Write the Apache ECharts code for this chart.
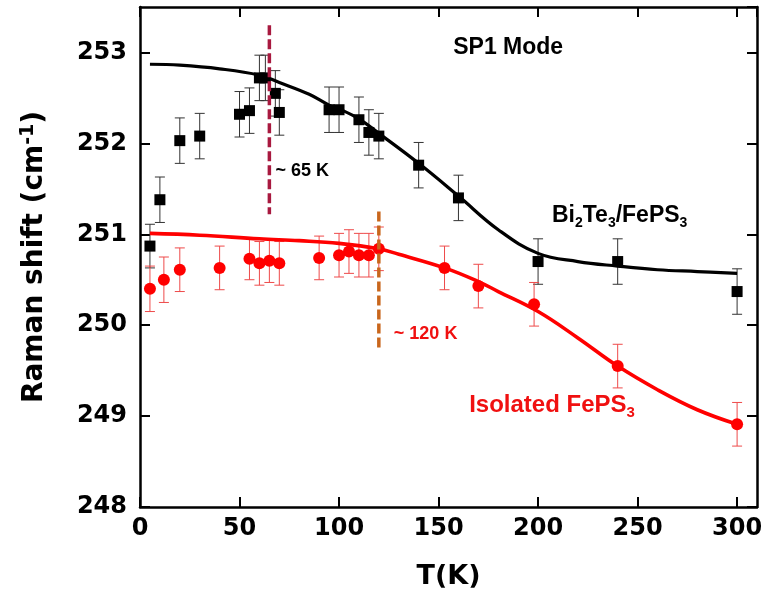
<!DOCTYPE html>
<html><head><meta charset="utf-8">
<script src="https://cdn.jsdelivr.net/npm/echarts@6/dist/echarts.min.js"></script>
<style>html,body{margin:0;padding:0;background:#fff}#c{width:766px;height:610px}</style>
</head><body><div id="c"></div>
<script>
// ---- data ----
const tBi   = [5, 10, 20, 30, 50, 55, 60, 63, 68, 70, 95, 100, 110, 115, 120, 140, 160, 200, 240, 300];
const yBi   = [250.87, 251.38, 252.03, 252.08, 252.32, 252.36, 252.72, 252.72, 252.55, 252.34, 252.37, 252.37, 252.26, 252.12, 252.08, 251.76, 251.40, 250.70, 250.70, 250.37];
const eBi   = [0.24, 0.25, 0.25, 0.25, 0.25, 0.25, 0.25, 0.25, 0.25, 0.25, 0.25, 0.25, 0.25, 0.25, 0.25, 0.25, 0.25, 0.25, 0.25, 0.25];

const tIso  = [5, 12, 20, 40, 55, 60, 65, 70, 90, 100, 105, 110, 115, 120, 153, 170, 198, 240, 300];
const yIso  = [250.40, 250.50, 250.61, 250.63, 250.73, 250.68, 250.71, 250.68, 250.74, 250.77, 250.81, 250.77, 250.77, 250.84, 250.63, 250.43, 250.23, 249.55, 248.91];
const eIso  = [0.25, 0.25, 0.24, 0.24, 0.23, 0.24, 0.24, 0.24, 0.24, 0.24, 0.24, 0.24, 0.24, 0.24, 0.24, 0.24, 0.24, 0.24, 0.24];

const fitTBi = [5, 20, 40, 60, 70, 85, 95, 100, 110, 120, 140, 160, 180, 200, 220, 240, 260, 280, 300];
const fitYBi = [252.87, 252.86, 252.82, 252.75, 252.67, 252.54, 252.42, 252.38, 252.27, 252.11, 251.78, 251.42, 251.05, 250.79, 250.70, 250.65, 250.61, 250.59, 250.57];

const fitTIso = [5, 30, 60, 80, 100, 120, 130, 153, 170, 180, 200, 220, 240, 260, 280, 300];
const fitYIso = [251.01, 250.99, 250.95, 250.93, 250.90, 250.84, 250.78, 250.63, 250.48, 250.37, 250.15, 249.86, 249.55, 249.29, 249.07, 248.91];

const mark65  = {t: 65,  y: [253.30, 251.22]};
const mark120 = {t: 120, y: [251.25, 249.75]};

// ---- chart ----
const FONT = '"Liberation Sans", Arial, sans-serif';
const AXFONT = '"DejaVu Sans", "Liberation Sans", sans-serif';
const chart = echarts.init(document.getElementById('c'), null, {renderer: 'canvas'});
const zip = (a, b) => a.map((v, i) => [v, b[i]]);
const zip3 = (a, b, c) => a.map((v, i) => [v, b[i], c[i]]);

function errRender(color) {
  return function (params, api) {
    const x = api.value(0), y = api.value(1), e = api.value(2);
    const top = api.coord([x, y + e]);
    const bot = api.coord([x, y - e]);
    const w = 5;
    const st = {stroke: color, lineWidth: 1};
    return {type: 'group', children: [
      {type: 'line', shape: {x1: top[0], y1: top[1], x2: bot[0], y2: bot[1]}, style: st},
      {type: 'line', shape: {x1: top[0]-w, y1: top[1], x2: top[0]+w, y2: top[1]}, style: st},
      {type: 'line', shape: {x1: bot[0]-w, y1: bot[1], x2: bot[0]+w, y2: bot[1]}, style: st}
    ]};
  };
}

const axisCommon = {
  axisLine: {show: true, onZero: false, lineStyle: {color: '#000', width: 2.5}},
  axisTick: {show: true, inside: true, length: 10, lineStyle: {color: '#000', width: 2}},
  splitLine: {show: false}
};

const option = {
  animation: false,
  backgroundColor: '#fff',
  grid: {left: 140, right: 9, top: 7, bottom: 103, containLabel: false},
  xAxis: [
    Object.assign({type: 'value', min: 0, max: 310, interval: 50, position: 'bottom',
      name: 'T(K)', nameLocation: 'middle', nameGap: 56,
      nameTextStyle: {fontFamily: AXFONT, fontWeight: 'bold', fontSize: 27, color: '#000'},
      axisLabel: {showMaxLabel: false, margin: 10, fontFamily: AXFONT, fontWeight: 'bold', fontSize: 24, color: '#000'}
    }, axisCommon),
    Object.assign({type: 'value', min: 0, max: 310, interval: 50, position: 'top',
      axisLabel: {show: false}}, axisCommon)
  ],
  yAxis: [
    Object.assign({type: 'value', min: 248, max: 253.5, interval: 1, position: 'left',
      name: 'Raman shift (cm{sup|-1})', nameLocation: 'middle', nameGap: 90,
      nameTextStyle: {fontFamily: AXFONT, fontWeight: 'bold', fontSize: 28, color: '#000',
        rich: {sup: {fontFamily: AXFONT, fontWeight: 'bold', fontSize: 19, color: '#000', verticalAlign: 'top', padding: [0, 0, 12, 0]}}},
      axisLabel: {showMaxLabel: false, margin: 13, fontFamily: AXFONT, fontWeight: 'bold', fontSize: 24, color: '#000'}
    }, axisCommon),
    Object.assign({type: 'value', min: 248, max: 253.5, interval: 1, position: 'right',
      axisLabel: {show: false}}, axisCommon)
  ],
  series: [
    {type: 'custom', name: 'errBi', renderItem: errRender('#333'), data: zip3(tBi, yBi, eBi), z: 2},
    {type: 'custom', name: 'errIso', renderItem: errRender('#ee4a4a'), data: zip3(tIso, yIso, eIso), z: 2},
    {type: 'line', name: 'fitBi', data: zip(fitTBi, fitYBi), smooth: 0.4, showSymbol: false, symbol: 'none',
      lineStyle: {color: '#000', width: 3.2}, z: 3},
    {type: 'line', name: 'fitIso', data: zip(fitTIso, fitYIso), smooth: 0.4, showSymbol: false, symbol: 'none',
      lineStyle: {color: '#ff0000', width: 3.6}, z: 3},
    {type: 'scatter', name: 'Bi2Te3/FePS3', data: zip(tBi, yBi), symbol: 'rect', symbolSize: 11,
      itemStyle: {color: '#000', opacity: 1}, z: 4},
    {type: 'scatter', name: 'Isolated FePS3', data: zip(tIso, yIso), symbol: 'circle', symbolSize: 12,
      itemStyle: {color: '#ff0000', opacity: 1}, z: 4},
    {type: 'line', name: 'm65', data: mark65.y.map(v => [mark65.t, v]), symbol: 'none',
      lineStyle: {color: '#a8193f', width: 3.5, type: [10, 4]}, z: 5},
    {type: 'line', name: 'm120', data: mark120.y.map(v => [mark120.t, v]), symbol: 'none',
      lineStyle: {color: '#c9661c', width: 3.5, type: [10, 4]}, z: 5}
  ]
};
chart.setOption(option);

// annotations anchored in data coordinates
const notes = [
  {at: [185, 253.05], text: 'SP1 Mode', rich: false, size: 23, color: '#000'},
  {at: [81.5, 251.70], text: '~ 65 K', rich: false, size: 18, color: '#000'},
  {at: [143.5, 249.90], text: '~ 120 K', rich: false, size: 18, color: '#f01010'},
  {at: [241, 251.21], text: '{a|Bi}{s|2}{a|Te}{s|3}{a|/FePS}{s|3}', rich: true, size: 23, color: '#000'},
  {at: [207, 249.12], text: '{a|Isolated FePS}{s|3}', rich: true, size: 24, color: '#f01010'}
];
const g = notes.map(n => {
  const p = chart.convertToPixel({gridIndex: 0}, n.at);
  const style = {text: n.text, x: p[0], y: p[1], align: 'center', verticalAlign: 'middle',
    fill: n.color, font: 'bold ' + n.size + 'px ' + FONT};
  if (n.rich) {
    style.rich = {
      a: {fontFamily: FONT, fontWeight: 'bold', fontSize: n.size, fill: n.color, lineHeight: 30, verticalAlign: 'middle'},
      s: {fontFamily: FONT, fontWeight: 'bold', fontSize: Math.round(n.size * 0.62), fill: n.color, verticalAlign: 'bottom'}
    };
  }
  return {type: 'text', style: style, z: 10};
});
chart.setOption({graphic: g});
</script>
</body></html>
